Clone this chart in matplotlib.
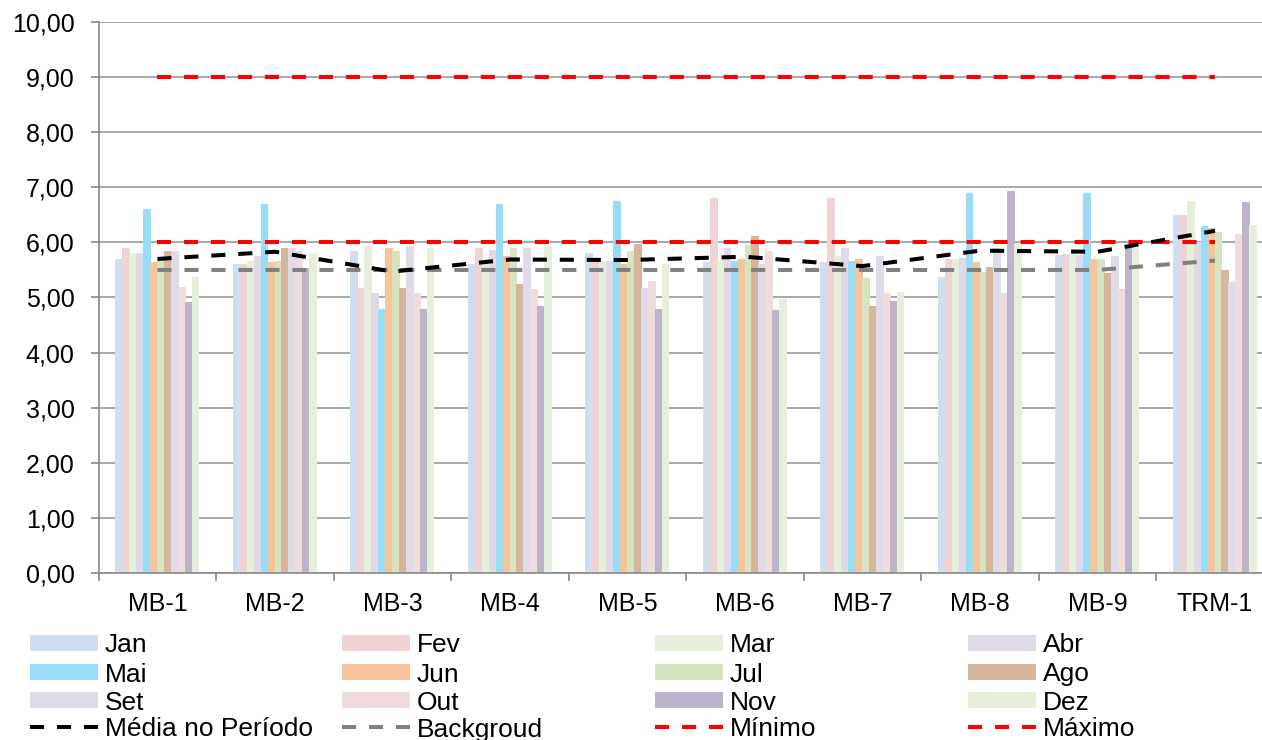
import matplotlib
matplotlib.use('Agg')
import matplotlib.pyplot as plt
import numpy as np
from matplotlib.lines import Line2D

plt.rcParams['font.family'] = ['Liberation Sans', 'DejaVu Sans']

sites = ['MB-1', 'MB-2', 'MB-3', 'MB-4', 'MB-5', 'MB-6', 'MB-7', 'MB-8', 'MB-9', 'TRM-1']
months = ['Jan', 'Fev', 'Mar', 'Abr', 'Mai', 'Jun', 'Jul', 'Ago', 'Set', 'Out', 'Nov', 'Dez']

jan = [5.70, 5.60, 5.84, 5.60, 5.80, 5.64, 5.64, 5.38, 5.77, 6.50]
fev = [5.90, 5.61, 5.18, 5.90, 5.68, 6.81, 6.81, 5.70, 5.79, 6.50]
mar = [5.81, 5.66, 5.94, 5.69, 5.66, 5.68, 5.75, 5.70, 5.80, 6.75]
abr = [5.80, 5.75, 5.09, 5.86, 5.66, 5.90, 5.90, 5.72, 5.77, 6.00]
mai = [6.60, 6.70, 4.79, 6.70, 6.75, 5.66, 5.66, 6.89, 6.90, 6.30]
jun = [5.64, 5.64, 5.90, 5.75, 5.60, 5.70, 5.70, 5.64, 5.70, 6.27]
jul = [5.68, 5.67, 5.84, 5.90, 5.85, 5.95, 5.35, 5.47, 5.70, 6.19]
ago = [5.84, 5.90, 5.18, 5.25, 5.98, 6.11, 4.85, 5.55, 5.45, 5.50]
set_ = [5.84, 5.90, 5.94, 5.90, 5.18, 5.60, 5.75, 5.90, 5.75, 5.29]
out = [5.19, 5.84, 5.09, 5.15, 5.30, 5.85, 5.08, 5.08, 5.15, 6.15]
nov = [4.91, 5.54, 4.79, 4.85, 4.80, 4.77, 4.94, 6.93, 5.95, 6.74]
dez = [5.38, 5.80, 5.90, 5.94, 5.60, 4.98, 5.10, 5.98, 5.90, 6.32]

media = [5.70, 5.83, 5.47, 5.69, 5.68, 5.74, 5.57, 5.85, 5.83, 6.21]
background = [5.50, 5.50, 5.50, 5.50, 5.50, 5.50, 5.50, 5.50, 5.50, 5.67]
minimo = [6.0] * 10
maximo = [9.0] * 10

monthly = [jan, fev, mar, abr, mai, jun, jul, ago, set_, out, nov, dez]
colors = ['#d0dff0', '#f0d3d5', '#e6efd9', '#dfd9e8', '#97ddf5', '#f5c49b',
          '#d6e4bf', '#d5b59b', '#e0dbe9', '#f0dcdc', '#bdb4cb', '#e6efd9']

fig = plt.figure(figsize=(12.62, 7.40), dpi=100)
ax = fig.add_axes([98.7 / 1262, 1 - 573 / 740, 1175 / 1262, 551 / 740])

x = np.arange(len(sites))
step = 0.059
w = 0.066
for i, vals in enumerate(monthly):
    ax.bar(x + (i - 5.5) * step, vals, width=w, color=colors[i], zorder=2, linewidth=0)

dash = (3.5, 3.2)
ax.plot(x, media, color='black', lw=2.9, dashes=dash, zorder=4)
ax.plot(x, background, color='#808080', lw=2.9, dashes=dash, zorder=3)
ax.plot(x, minimo, color='red', lw=2.9, dashes=dash, zorder=3)
ax.plot(x, maximo, color='red', lw=2.9, dashes=dash, zorder=3)

ax.set_ylim(0, 10)
ax.set_xlim(-0.5, len(sites) - 0.5)
ax.set_yticks(np.arange(0, 11, 1))
ax.set_yticklabels([('%.2f' % v).replace('.', ',') for v in range(0, 11)])
ax.yaxis.grid(True, color='#999999', lw=1.2, zorder=0)
ax.set_axisbelow(True)

ax.set_xticks(np.arange(-0.5, len(sites), 1))
ax.set_xticklabels([])
ax.set_xticks(x, minor=True)
ax.set_xticklabels(sites, minor=True)
ax.tick_params(axis='x', which='minor', length=0, pad=14, labelsize=18)
ax.tick_params(axis='x', which='major', length=5.5, color='#888888', width=1.2)
ax.tick_params(axis='y', length=5.5, color='#888888', width=1.2, pad=12, labelsize=18)

for s in ['top', 'right']:
    ax.spines[s].set_visible(False)
for s in ['left', 'bottom']:
    ax.spines[s].set_color('#888888')
    ax.spines[s].set_linewidth(1.2)

# legend, row by row like the original
labels = months + ['Média no Período', 'Backgroud', 'Mínimo', 'Máximo']
styles = [dict(color=c, lw=11.5, solid_capstyle='butt') for c in colors]
styles += [dict(color=c, lw=2.9, dashes=dash) for c in ['black', '#808080', 'red', 'red']]
col_x = [30, 342, 655, 968]
row_y = [643, 672, 700, 727]
W, H = 1262.0, 740.0
for k, (lab, st) in enumerate(zip(labels, styles)):
    r, c = divmod(k, 4)
    x0 = col_x[c]
    y0 = 1 - row_y[r] / H
    fig.add_artist(Line2D([x0 / W, (x0 + 68) / W], [y0, y0], transform=fig.transFigure, **st))
    fig.text((x0 + 75) / W, y0, lab, fontsize=19, va='center_baseline', ha='left')

fig.savefig('out.png', dpi=100)
